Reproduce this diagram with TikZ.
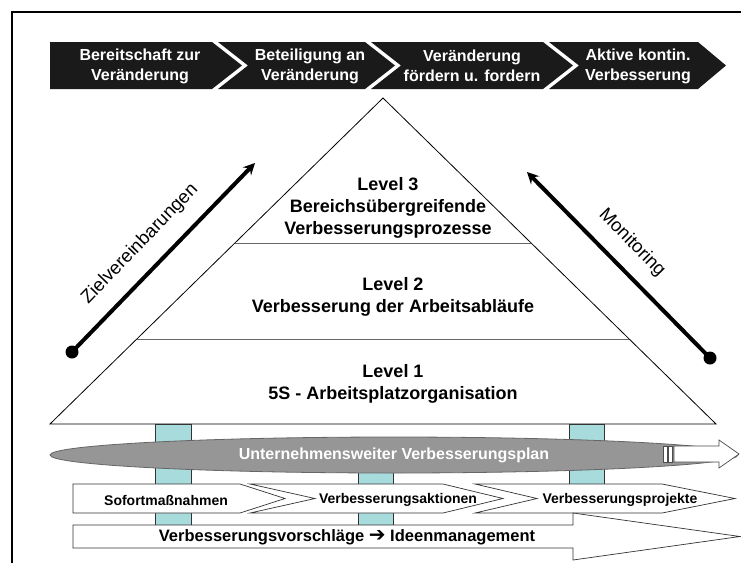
\documentclass[tikz,border=0pt]{standalone}
\usepackage{fontspec}
\setmainfont{Liberation Sans}
\newfontfamily\symfont{DejaVu Sans}
\usetikzlibrary{arrows}
\usetikzlibrary{calc}
\usetikzlibrary{shapes.geometric}
\definecolor{darkband}{HTML}{1A1A1A}
\definecolor{pillarcol}{HTML}{A8DCDC}
\definecolor{plangray}{HTML}{969696}

\begin{document}
\begin{tikzpicture}[x=1pt,y=-1pt,
	band/.style={fill=darkband,draw=none},
	bandtext/.style={text=white,font=\bfseries\fontsize{16}{20}\selectfont,align=center,inner sep=0pt},
	leveltext/.style={font=\bfseries\fontsize{18}{22}\selectfont,align=center,inner sep=0pt},
	stage/.style={fill=white,draw=black!80,line width=0.7pt},
	stagetext/.style={font=\bfseries\fontsize{14}{16}\selectfont,inner sep=0pt},
	pillarbox/.style={fill=pillarcol,draw=black!80,line width=0.7pt},
	sidearrow/.style={line width=4pt,-stealth},
	sidetext/.style={font=\fontsize{18.5}{22}\selectfont,inner sep=0pt}]
	\useasboundingbox (0,0) rectangle (741,563);
	\draw[line width=2pt] (12,563) -- (12,12) -- (741,12);

	\fill[band] (50,42) -- (212,42) -- (242,65.5) -- (212,89) -- (50,89) -- cycle;
	\fill[band] (218,42) -- (365,42) -- (395,65.5) -- (365,89) -- (218,89) -- (248,65.5) -- cycle;
	\fill[band] (371,42) -- (543,42) -- (573,65.5) -- (543,89) -- (371,89) -- (401,65.5) -- cycle;
	\fill[band] (549,42) -- (698,42) -- (726,65.5) -- (698,89) -- (549,89) -- (579,65.5) -- cycle;
	\node[bandtext] (ready) at (140,66) {Bereitschaft zur\\Veränderung};
	\node[bandtext] (join) at (310,66) {Beteiligung an\\Veränderung};
	\node[bandtext] (push) at (472,66) {Veränderung\\fördern u. fordern};
	\node[bandtext] (active) at (638,66) {Aktive kontin.\\Verbesserung};

	\coordinate (apex) at (383,98);
	\coordinate (bl) at (50,424);
	\coordinate (br) at (716,424);
	\draw[fill=white,line width=0.8pt] (bl) -- (apex) -- (br) -- cycle;
	\draw[black!60,line width=0.8pt] ($(apex)!0.4448!(bl)$) -- ($(apex)!0.4448!(br)$);
	\draw[black!60,line width=0.8pt] ($(apex)!0.7393!(bl)$) -- ($(apex)!0.7393!(br)$);
	\node[leveltext] (lvl3) at (388,207.5) {Level 3\\Bereichsübergreifende\\Verbesserungsprozesse};
	\node[leveltext] (lvl2) at (393,297) {Level 2\\Verbesserung der Arbeitsabläufe};
	\node[leveltext] (lvl1) at (393,384) {Level 1\\5S - Arbeitsplatzorganisation};

	\coordinate (goalstart) at (72,352);
	\coordinate (goalend) at (255,163);
	\draw[sidearrow] (goalstart) -- (goalend);
	\fill (goalstart) circle (6.5);
	\node[sidetext,rotate=46] (goal) at (140,244) {Zielvereinbarungen};

	\coordinate (monstart) at (710,358);
	\coordinate (monend) at (527,172);
	\draw[sidearrow] (monstart) -- (monend);
	\fill (monstart) circle (6.5);
	\node[sidetext,rotate=-45.5] (mon) at (632,243) {Monitoring};

	\draw[pillarbox] (155,424) rectangle (191,525);
	\draw[pillarbox] (358,460) rectangle (393,525);
	\draw[pillarbox] (569,424) rectangle (604,500);

	\node[ellipse,fill=plangray,draw=black!60,line width=0.8pt,minimum width=688,minimum height=36,inner sep=0pt,
		text=white,font=\bfseries\fontsize{16}{20}\selectfont] (plan) at (394,455) {Unternehmensweiter Verbesserungsplan};
	\draw[fill=white,draw=black!70,line width=0.7pt] (674,446) -- (719,446) -- (719,440) -- (739,454) -- (719,468) -- (719,462) -- (674,462) -- cycle;
	\draw[fill=white,draw=black!70,line width=0.7pt] (663,446) rectangle (667,462);
	\draw[fill=white,draw=black!70,line width=0.7pt] (668,446) rectangle (672,462);

	\draw[stage] (73,484) -- (240,484) -- (285,498.5) -- (240,513) -- (73,513) -- cycle;
	\draw[stage] (250,484) -- (443,484) -- (503,498.5) -- (443,513) -- (250,513) -- (315,498.5) -- cycle;
	\draw[stage] (475,484) -- (662,484) -- (735,498.5) -- (662,513) -- (475,513) -- (537,498.5) -- cycle;
	\node[stagetext] (quick) at (166,500) {Sofortmaßnahmen};
	\node[stagetext] (actions) at (398,500) {Verbesserungsaktionen};
	\node[stagetext] (projects) at (620,500) {Verbesserungsprojekte};

	\draw[stage] (73,525) -- (573,525) -- (573,513) -- (740,536.5) -- (573,560) -- (573,548) -- (73,548) -- cycle;
	\node[font=\bfseries\fontsize{16.5}{20}\selectfont,inner sep=0pt] (ideas) at (347,537) {Verbesserungsvorschläge {\symfont\fontsize{20}{20}\selectfont ➔} Ideenmanagement};
\end{tikzpicture}
\end{document}
